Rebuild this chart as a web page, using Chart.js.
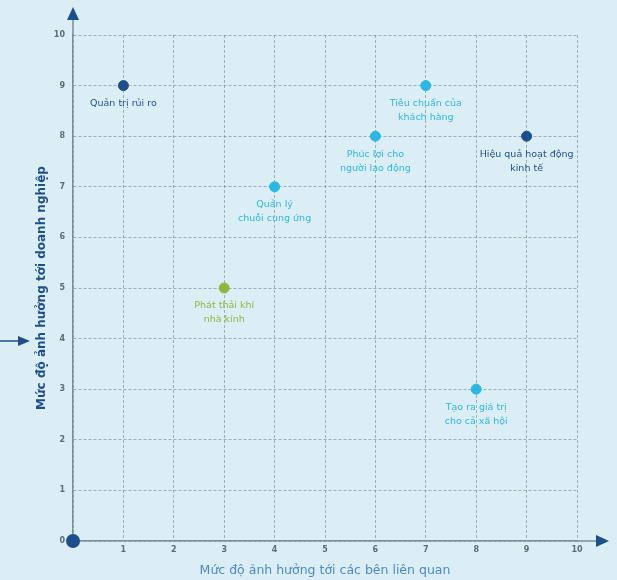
<!DOCTYPE html>
<html>
<head>
<meta charset="utf-8">
<script src="https://cdn.jsdelivr.net/npm/chart.js@4.4.0/dist/chart.umd.min.js"></script>
<style>
  html, body { margin: 0; padding: 0; background: #dceef5; }
  #wrap { width: 617px; height: 580px; }
</style>
</head>
<body>
<div id="wrap"><canvas id="matrixChart"></canvas></div>
<script>
// topics on the materiality matrix
const topicNames = [
  ['Quản trị rủi ro'],
  ['Tiêu chuẩn của', 'khách hàng'],
  ['Phúc lợi cho', 'người lao động'],
  ['Hiệu quả hoạt động', 'kinh tế'],
  ['Quản lý', 'chuỗi cung ứng'],
  ['Phát thải khí', 'nhà kính'],
  ['Tạo ra giá trị', 'cho cả xã hội']
];
const stakeholderImpact = [1, 7, 6, 9, 4, 3, 8];   // x
const businessImpact = [9, 9, 8, 8, 7, 5, 3];      // y
const topicGroup = ['governance', 'social', 'social', 'governance', 'social', 'environment', 'social'];

const groupColors = {
  governance: '#1d4f8f',
  social: '#2bb7e4',
  environment: '#8db83d'
};

const xTitle = 'Mức độ ảnh hưởng tới các bên liên quan';
const yTitle = 'Mức độ ảnh hưởng tới doanh nghiệp';

const points = stakeholderImpact.map((x, i) => ({ x: x, y: businessImpact[i] }));
const pointColors = topicGroup.map(g => groupColors[g]);

const arrowBlue = '#1d4f8f';
const axisGray = '#7d8c96';

// draws labels under points + axis arrows
const matrixExtras = {
  id: 'matrixExtras',
  afterDatasetsDraw(chart) {
    const c = chart.ctx;
    const area = chart.chartArea;
    const meta = chart.getDatasetMeta(0);

    c.save();
    c.font = '9.5px "DejaVu Sans", sans-serif';
    c.textAlign = 'center';
    c.textBaseline = 'middle';
    meta.data.forEach((pt, i) => {
      c.fillStyle = pointColors[i];
      topicNames[i].forEach((line, j) => {
        c.fillText(line, pt.x, pt.y + 18 + j * 14);
      });
    });

    // axis extensions
    c.strokeStyle = axisGray;
    c.lineWidth = 1.5;
    c.beginPath();
    c.moveTo(area.left, area.top);
    c.lineTo(area.left, 18);
    c.moveTo(area.right, area.bottom);
    c.lineTo(598, area.bottom);
    c.stroke();

    c.fillStyle = arrowBlue;
    // up arrow
    c.beginPath();
    c.moveTo(area.left, 7);
    c.lineTo(area.left - 6, 20);
    c.lineTo(area.left + 6, 20);
    c.closePath();
    c.fill();
    // right arrow
    c.beginPath();
    c.moveTo(609, area.bottom);
    c.lineTo(596, area.bottom - 6);
    c.lineTo(596, area.bottom + 6);
    c.closePath();
    c.fill();
    // small arrow pointing at the y title
    c.strokeStyle = arrowBlue;
    c.lineWidth = 1.5;
    c.beginPath();
    c.moveTo(0, 341);
    c.lineTo(20, 341);
    c.stroke();
    c.beginPath();
    c.moveTo(30, 341);
    c.lineTo(18, 336);
    c.lineTo(18, 346);
    c.closePath();
    c.fill();

    // origin dot
    c.beginPath();
    c.arc(area.left, area.bottom, 7, 0, Math.PI * 2);
    c.fill();
    c.restore();
  }
};

new Chart(document.getElementById('matrixChart'), {
  type: 'scatter',
  data: {
    datasets: [{
      data: points,
      backgroundColor: pointColors,
      borderColor: pointColors,
      pointRadius: 5,
      pointHoverRadius: 5,
      clip: false
    }]
  },
  options: {
    responsive: true,
    maintainAspectRatio: false,
    animation: false,
    layout: { padding: { top: 35, right: 40, left: 33, bottom: 0 } },
    plugins: {
      legend: { display: false },
      tooltip: { enabled: false }
    },
    scales: {
      x: {
        type: 'linear',
        min: 0,
        max: 10,
        afterFit: s => { s.height = 39; },
        ticks: {
          stepSize: 1,
          padding: 4,
          color: '#5f6c75',
          font: { size: 8, weight: 'bold', family: '"DejaVu Sans", sans-serif' },
          callback: v => (v === 0 ? '' : v)
        },
        grid: { color: 'rgba(110,122,130,0.55)', drawTicks: false, lineWidth: 1 },
        border: { color: axisGray, width: 1.5, dash: [3, 2] },
        title: {
          display: true,
          text: xTitle,
          color: '#4a8ac6',
          padding: { top: 0, bottom: 2 },
          font: { size: 12.5, family: '"DejaVu Sans", sans-serif' }
        }
      },
      y: {
        type: 'linear',
        min: 0,
        max: 10,
        afterFit: s => { s.width = 40; },
        ticks: {
          stepSize: 1,
          padding: 8,
          color: '#5f6c75',
          font: { size: 8, weight: 'bold', family: '"DejaVu Sans", sans-serif' }
        },
        grid: { color: 'rgba(110,122,130,0.55)', drawTicks: false, lineWidth: 1 },
        border: { color: axisGray, width: 1.5, dash: [3, 2] },
        title: {
          display: true,
          text: yTitle,
          color: '#1d4f8f',
          padding: { top: 2, bottom: 0 },
          font: { size: 12, weight: 'bold', family: '"DejaVu Sans", sans-serif' }
        }
      }
    }
  },
  plugins: [matrixExtras]
});
</script>
</body>
</html>
